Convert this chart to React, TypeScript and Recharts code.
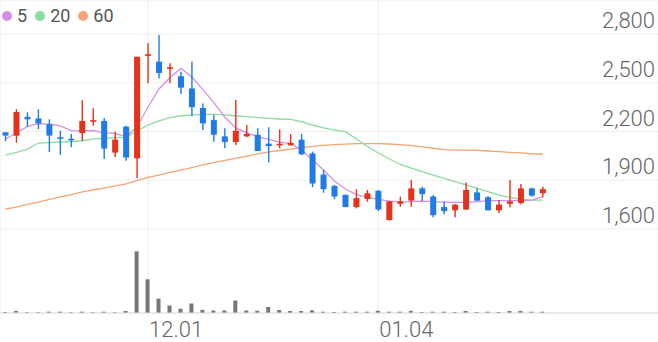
import React from 'react';
import { ComposedChart, Bar, Line, XAxis, YAxis, CartesianGrid } from 'recharts';

const SLOTS = 60;
const opens = [2195, 2174, 2290, 2280, 2245, 2165, 2155, 2190, 2265, 2265, 2070, 2230, 2035, 2665, 2630, 2585, 2540, 2465, 2345, 2270, 2170, 2135, 2170, 2180, 2125, 2115, 2115, 2150, 2065, 1935, 1865, 1810, 1735, 1785, 1835, 1655, 1755, 1775, 1850, 1800, 1735, 1715, 1720, 1825, 1795, 1715, 1755, 1760, 1850, 1820];
const highs = [2195, 2337, 2318, 2337, 2275, 2205, 2185, 2392, 2343, 2283, 2199, 2235, 2660, 2743, 2794, 2620, 2568, 2630, 2373, 2302, 2220, 2394, 2240, 2220, 2226, 2213, 2185, 2185, 2076, 1963, 1871, 1812, 1844, 1840, 1840, 1774, 1799, 1902, 1860, 1809, 1768, 1752, 1887, 1850, 1803, 1778, 1902, 1877, 1854, 1860];
const lows = [2141, 2131, 2230, 2215, 2074, 2057, 2103, 2142, 2236, 2031, 2043, 2020, 1912, 2497, 2527, 2497, 2431, 2295, 2209, 2137, 2097, 2117, 2165, 2080, 2010, 2097, 2113, 2055, 1857, 1823, 1783, 1734, 1727, 1768, 1711, 1651, 1737, 1737, 1772, 1672, 1690, 1672, 1717, 1772, 1713, 1697, 1733, 1752, 1799, 1795];
const closes = [2175, 2320, 2275, 2250, 2175, 2155, 2145, 2265, 2270, 2095, 2150, 2040, 2660, 2675, 2560, 2595, 2470, 2350, 2250, 2180, 2135, 2205, 2185, 2080, 2110, 2125, 2130, 2060, 1880, 1845, 1800, 1735, 1790, 1820, 1720, 1770, 1770, 1850, 1815, 1685, 1710, 1750, 1840, 1775, 1715, 1750, 1770, 1850, 1805, 1845];
const volumes = [100000, 205000, 80000, 80000, 130000, 130000, 80000, 130000, 80000, 130000, 80000, 200000, 6170000, 3370000, 1430000, 750000, 430000, 950000, 320000, 250000, 250000, 1250000, 250000, 220000, 600000, 300000, 200000, 200000, 270000, 130000, 100000, 130000, 130000, 130000, 220000, 130000, 130000, 220000, 100000, 130000, 130000, 100000, 200000, 100000, 130000, 100000, 200000, 200000, 130000, 130000];
const ma5 = [2154, 2191, 2231, 2249, 2246, 2234, 2206, 2203, 2206, 2191, 2188, 2169, 2228, 2351, 2462, 2532, 2588, 2535, 2458, 2378, 2289, 2222, 2191, 2169, 2151, 2134, 2126, 2086, 2025, 1963, 1895, 1846, 1812, 1794, 1782, 1772, 1766, 1769, 1772, 1769, 1766, 1764, 1764, 1769, 1774, 1775, 1775, 1775, 1778, 1799];
const ma20 = [2055, 2071, 2092, 2129, 2132, 2135, 2137, 2143, 2154, 2158, 2162, 2166, 2203, 2240, 2265, 2286, 2297, 2302, 2305, 2305, 2302, 2297, 2292, 2286, 2281, 2277, 2274, 2260, 2240, 2222, 2209, 2199, 2154, 2108, 2068, 2031, 1997, 1974, 1953, 1932, 1912, 1892, 1871, 1850, 1830, 1809, 1795, 1783, 1778, 1778];
const ma60 = [1723, 1735, 1751, 1766, 1782, 1797, 1812, 1828, 1840, 1852, 1865, 1877, 1898, 1917, 1932, 1948, 1963, 1978, 1994, 2008, 2022, 2035, 2049, 2062, 2074, 2083, 2092, 2100, 2108, 2114, 2119, 2122, 2125, 2126, 2126, 2123, 2119, 2113, 2105, 2097, 2089, 2086, 2086, 2084, 2080, 2076, 2072, 2068, 2063, 2060];
const xTickIndexes = [13, 34];
const xTickLabels = ['12.01', '01.04'];
const priceTicks = [1600, 1900, 2200, 2500, 2800];
const legendItems = [
  { name: '5', color: '#d58ee8' },
  { name: '20', color: '#8ddb9c' },
  { name: '60', color: '#f7a477' },
];

const RED = '#e4321b';
const BLUE = '#1f7be6';

const data = Array.from({ length: SLOTS }, (_, i) => {
  if (i < opens.length) {
    return {
      i,
      o: opens[i],
      h: highs[i],
      l: lows[i],
      c: closes[i],
      range: [lows[i], highs[i]],
      vol: volumes[i],
      ma5: ma5[i],
      ma20: ma20[i],
      ma60: ma60[i],
    };
  }
  return { i, o: null, h: null, l: null, c: null, range: null, vol: null, ma5: null, ma20: null, ma60: null };
});

const Candle = (props: any) => {
  const { x, y, width, height, payload } = props;
  if (!payload || payload.o == null || height == null) return null;
  const { o, h, l, c } = payload;
  const ppu = height / (h - l);
  const cx = x + width / 2;
  const color = c >= o ? RED : BLUE;
  const bodyTop = y + (h - Math.max(o, c)) * ppu;
  const bodyH = Math.max(Math.abs(o - c) * ppu, 1.6);
  return (
    <g>
      <rect x={cx - 0.7} y={y} width={1.4} height={height} fill={color} />
      <rect x={cx - 3} y={bodyTop} width={6} height={bodyH} fill={color} />
    </g>
  );
};

const XTick = (props: any) => {
  const { x, y, payload } = props;
  const idx = xTickIndexes.indexOf(payload.value);
  return (
    <text x={x + 1} y={y + 24} textAnchor="start" fill="#666" fontSize={22} fontWeight={300} fontFamily="Roboto">
      {idx >= 0 ? xTickLabels[idx] : ''}
    </text>
  );
};

const YTick = (props: any) => {
  const { y, payload } = props;
  return (
    <text x={655} y={y - 6} textAnchor="end" fill="#666" fontSize={22} fontWeight={300} fontFamily="Roboto">
      {Number(payload.value).toLocaleString('en-US')}
    </text>
  );
};

export default function App() {
  return (
    <div style={{ position: 'absolute', left: 0, top: 0, width: 658, height: 342, background: '#fff' }}>
      <ComposedChart width={658} height={342} data={data} margin={{ top: 0, right: 0, bottom: 0, left: 0 }}>
        <CartesianGrid stroke="#eeeeee" strokeWidth={1} />
        <XAxis
          dataKey="i"
          ticks={xTickIndexes}
          interval={0}
          height={29}
          tickSize={0}
          tickMargin={0}
          tickLine={false}
          axisLine={{ stroke: '#dddddd' }}
          tick={<XTick />}
        />
        <XAxis xAxisId="v" dataKey="i" hide />
        <YAxis
          orientation="right"
          mirror
          width={70}
          domain={[1083.08, 3009.23]}
          ticks={priceTicks}
          interval={0}
          allowDataOverflow
          axisLine={false}
          tickLine={false}
          tick={<YTick />}
        />
        <YAxis yAxisId="vol" hide domain={[0, 31300000]} allowDataOverflow />
        <Bar xAxisId="v" yAxisId="vol" dataKey="vol" fill="#777777" barSize={4} isAnimationActive={false} />
        <Line dataKey="ma60" stroke="#f7a477" strokeWidth={1.3} dot={false} activeDot={false} isAnimationActive={false} />
        <Line dataKey="ma20" stroke="#8ddb9c" strokeWidth={1.3} dot={false} activeDot={false} isAnimationActive={false} />
        <Line dataKey="ma5" stroke="#d58ee8" strokeWidth={1.3} dot={false} activeDot={false} isAnimationActive={false} />
        <Bar dataKey="range" barSize={7} shape={<Candle />} isAnimationActive={false} zIndex={500} />
      </ComposedChart>
      <div style={{ position: 'absolute', left: 0, top: 0, fontFamily: 'Roboto', fontSize: 18, color: '#555', display: 'flex', alignItems: 'center', height: 31 }}>
        {legendItems.map((it, k) => (
          <div key={k} style={{ display: 'flex', alignItems: 'center', marginLeft: k === 0 ? 2 : 8 }}>
            <span style={{ display: 'inline-block', width: 10, height: 10, borderRadius: 5, background: it.color, marginRight: 5 }} />
            <span style={{ lineHeight: '18px' }}>{it.name}</span>
          </div>
        ))}
      </div>
    </div>
  );
}
